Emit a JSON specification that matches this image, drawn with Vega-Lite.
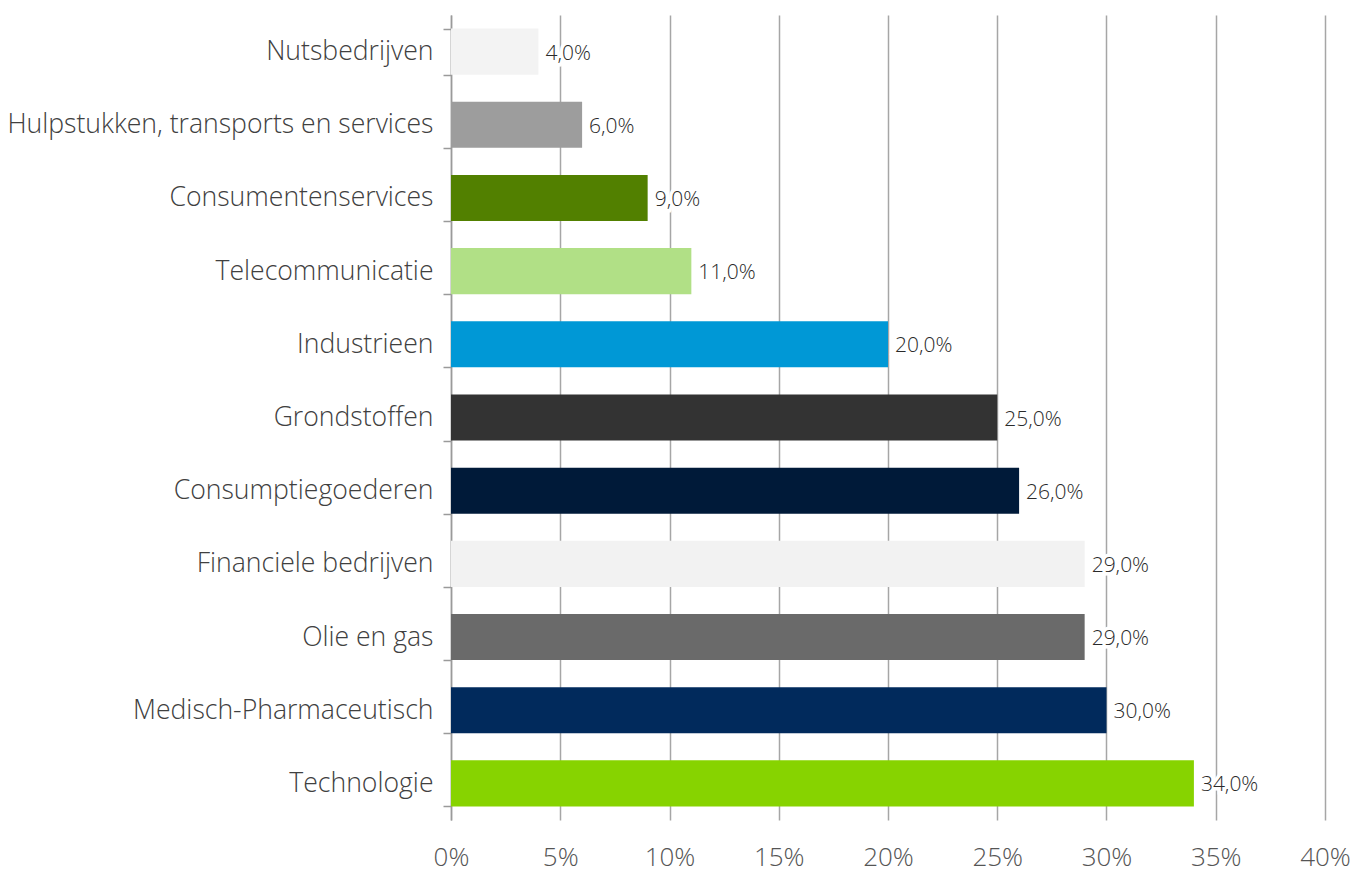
{
  "$schema": "https://vega.github.io/schema/vega-lite/v6.json",
  "width": 1365,
  "height": 870,
  "autosize": {"type": "fit", "contains": "padding"},
  "padding": {"top": 2, "left": 6, "right": 14, "bottom": 0},
  "background": "white",
  "config": {
    "locale": {"number": {"decimal": ",", "thousands": ".", "grouping": [3], "currency": ["€", ""]}},
    "view": {"stroke": null},
    "font": "Open Sans"
  },
  "data": {
    "values": [
      {"sector": "Nutsbedrijven", "value": 0.04, "color": "#f3f3f3"},
      {"sector": "Hulpstukken, transports en services", "value": 0.06, "color": "#9d9d9d"},
      {"sector": "Consumentenservices", "value": 0.09, "color": "#528000"},
      {"sector": "Telecommunicatie", "value": 0.11, "color": "#b1e086"},
      {"sector": "Industrieen", "value": 0.20, "color": "#0098d6"},
      {"sector": "Grondstoffen", "value": 0.25, "color": "#333333"},
      {"sector": "Consumptiegoederen", "value": 0.26, "color": "#001a39"},
      {"sector": "Financiele bedrijven", "value": 0.29, "color": "#f2f2f2"},
      {"sector": "Olie en gas", "value": 0.29, "color": "#6a6a6a"},
      {"sector": "Medisch-Pharmaceutisch", "value": 0.30, "color": "#012a5c"},
      {"sector": "Technologie", "value": 0.34, "color": "#87d300"}
    ]
  },
  "encoding": {
    "y": {
      "field": "sector",
      "type": "nominal",
      "sort": null,
      "scale": {"paddingInner": 0.37, "paddingOuter": 0.185},
      "axis": {
        "title": null,
        "domainColor": "#9a9a9a",
        "domainWidth": 1.5,
        "tickColor": "#9a9a9a",
        "tickWidth": 1.5,
        "tickSize": 8,
        "tickBand": "extent",
        "labelPadding": 10,
        "labelFont": "Open Sans",
        "labelFontWeight": 300,
        "labelFontSize": 26.6,
        "labelColor": "#404040",
        "labelLimit": 700,
        "grid": false
      }
    },
    "x": {
      "field": "value",
      "type": "quantitative",
      "scale": {"domain": [0, 0.4], "nice": false},
      "axis": {
        "title": null,
        "format": ".0%",
        "values": [0, 0.05, 0.1, 0.15, 0.2, 0.25, 0.3, 0.35, 0.4],
        "domain": false,
        "ticks": false,
        "grid": true,
        "gridColor": "#a6a6a6",
        "gridWidth": 1.5,
        "labelFlush": false,
        "labelPadding": 24,
        "labelFont": "Open Sans",
        "labelFontWeight": 300,
        "labelFontSize": 26,
        "labelColor": "#555555"
      }
    }
  },
  "layer": [
    {
      "mark": {"type": "bar"},
      "encoding": {"color": {"field": "color", "type": "nominal", "scale": null}}
    },
    {
      "mark": {"type": "text", "align": "left", "baseline": "middle", "dx": 7, "dy": 2, "fontSize": 21, "font": "Open Sans", "fontWeight": 300, "stroke": "white", "strokeWidth": 7, "fill": "white"},
      "encoding": {"text": {"field": "value", "type": "quantitative", "format": ".1%"}}
    },
    {
      "mark": {"type": "text", "align": "left", "baseline": "middle", "dx": 7, "dy": 2, "fontSize": 21, "font": "Open Sans", "fontWeight": 300, "color": "#2a2a2a"},
      "encoding": {"text": {"field": "value", "type": "quantitative", "format": ".1%"}}
    }
  ]
}
